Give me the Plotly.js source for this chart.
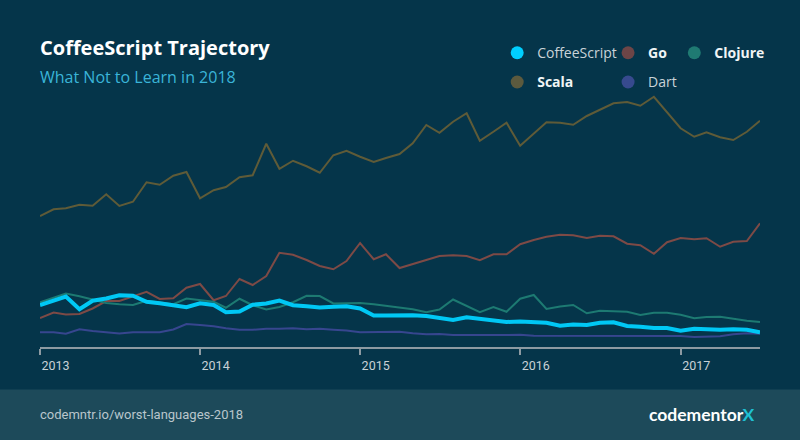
<!DOCTYPE html>
<html><head><meta charset="utf-8">
<script src="https://cdn.plot.ly/plotly-3.0.1.min.js"></script>
<style>html,body{margin:0;padding:0;background:#05354a;} #chart{width:800px;height:440px;}</style>
</head><body><div id="chart"></div>
<script>
const months = [
 "2013-01-01","2013-02-01","2013-03-01","2013-04-01","2013-05-01","2013-06-01","2013-07-01","2013-08-01","2013-09-01","2013-10-01","2013-11-01","2013-12-01",
 "2014-01-01","2014-02-01","2014-03-01","2014-04-01","2014-05-01","2014-06-01","2014-07-01","2014-08-01","2014-09-01","2014-10-01","2014-11-01","2014-12-01",
 "2015-01-01","2015-02-01","2015-03-01","2015-04-01","2015-05-01","2015-06-01","2015-07-01","2015-08-01","2015-09-01","2015-10-01","2015-11-01","2015-12-01",
 "2016-01-01","2016-02-01","2016-03-01","2016-04-01","2016-05-01","2016-06-01","2016-07-01","2016-08-01","2016-09-01","2016-10-01","2016-11-01","2016-12-01",
 "2017-01-01","2017-02-01","2017-03-01","2017-04-01","2017-05-01","2017-06-01","2017-07-01"
];
const coffeescript = [16.8,18.5,20.2,15.1,18.5,19.4,20.7,20.5,18.1,17.5,16.7,15.9,
 17.5,16.8,13.9,14.2,16.9,17.4,18.6,16.7,16.3,15.8,16.1,16.3,
 15.4,12.6,12.6,12.7,12.7,12.4,11.7,10.8,11.9,11.3,10.3,10.0,
 10.2,9.8,9.7,8.5,9.0,8.8,9.7,9.9,8.4,8.1,7.6,7.6,
 6.5,7.3,7.1,6.9,7.1,6.9,5.9];
const go = [11.6,13.8,13.0,13.2,15.4,18.4,18.4,20.2,22.1,19.2,19.5,23.7,
 25.2,18.7,20.4,27.2,24.8,28.4,37.7,36.9,34.8,32.4,31.1,34.4,
 41.6,35.1,37.1,31.6,33.2,34.8,36.4,36.7,36.4,34.7,37.1,37.1,
 41.1,42.8,44.1,44.9,44.7,43.6,44.5,44.3,41.3,40.7,37.3,41.9,
 43.6,43.1,43.5,40.1,42.1,42.4,49.5];
const clojure = [17.9,19.9,21.4,20.3,19.1,17.6,17.1,16.8,18.5,17.7,17.1,19.4,
 18.7,18.1,15.7,19.3,16.7,15.0,16.0,17.9,20.5,20.4,17.4,17.5,
 17.6,17.1,16.5,15.8,15.1,13.9,15.0,19.0,16.5,13.9,16.0,14.1,
 19.3,20.8,15.2,16.2,16.8,13.5,14.5,14.4,14.1,12.8,13.7,13.7,
 12.9,11.5,12.0,12.1,11.3,10.5,10.0];
const scala = [52.4,55.1,55.5,56.9,56.5,61.1,56.4,58.1,65.9,64.9,68.5,70.0,
 59.5,62.7,64.0,67.9,68.7,81.3,71.3,74.5,72.3,69.7,76.7,78.5,
 76.1,74.0,75.6,77.2,81.5,88.8,85.7,90.1,93.5,82.5,86.1,89.7,
 80.5,85.2,89.9,89.7,88.9,92.4,94.8,97.5,98.0,96.5,100.1,93.7,
 87.5,84.1,85.9,83.9,82.8,86.1,90.5];
const dart = [5.9,5.9,5.3,7.1,6.4,5.9,5.4,5.9,5.9,5.9,7.0,9.2,
 8.8,8.3,7.5,6.9,6.9,7.3,7.3,7.5,7.1,7.3,6.9,6.6,
 5.9,5.9,5.9,6.1,5.5,5.1,5.2,4.8,4.8,4.9,4.8,4.8,
 4.9,4.5,4.5,4.4,4.5,4.4,4.5,4.7,4.5,4.5,4.4,4.4,
 4.4,4.0,4.1,4.3,5.1,5.5,5.3];
const tickYears = ["2013-01-01","2014-01-01","2015-01-01","2016-01-01","2017-01-01"];
const tickText = ["2013","2014","2015","2016","2017"];

const series = [
  {name:"Scala", label:"<b>Scala</b>", y:scala, color:"#5f5b38", marker:"#5c5a3e", width:2, legend:"legend"},
  {name:"Go", label:"<b>Go</b>", y:go, color:"#7d4a46", marker:"#6d4547", width:2, legend:"legend2"},
  {name:"Clojure", label:"<b>Clojure</b>", y:clojure, color:"#1d7a72", marker:"#1f7a72", width:2, legend:"legend3"},
  {name:"Dart", label:"<span style='color:#c9d3d8'>Dart</span>", y:dart, color:"#37468f", marker:"#374a8e", width:2, legend:"legend2"},
  {name:"CoffeeScript", label:"<span style='color:#c9d3d8'>CoffeeScript</span>", y:coffeescript, color:"#00c8f5", marker:"#00cfff", width:4, legend:"legend"}
];
const traces = [];
series.forEach(s => {
  traces.push({type:"scatter", mode:"lines", x:months, y:s.y, name:s.name, legendgroup:s.name,
    showlegend:false, line:{color:s.color, width:s.width}, hoverinfo:"x+y+name"});
});
const legendOrder = ["CoffeeScript","Scala","Go","Dart","Clojure"];
legendOrder.forEach(n => {
  const s = series.find(t => t.name === n);
  traces.push({type:"scatter", mode:"markers", x:[null], y:[null], name:s.label, legendgroup:s.name,
    legend:s.legend, showlegend:true, marker:{color:s.marker, size:13, symbol:"circle"}, hoverinfo:"skip"});
});

const legendBase = {orientation:"v", xanchor:"left", yanchor:"top", y:1.215, bgcolor:"rgba(0,0,0,0)",
  font:{family:"Open Sans", size:14, color:"#f0f4f5"}, tracegroupgap:8, itemclick:false, itemdoubleclick:false};

const layout = {
  width:800, height:440,
  paper_bgcolor:"#05354a", plot_bgcolor:"#05354a",
  margin:{l:40, r:40, t:92, b:93},
  title:{text:"<b>CoffeeScript Trajectory</b>", font:{family:"Open Sans", size:20, color:"#ffffff"},
    x:0.05, xanchor:"left", xref:"container", yref:"container", y:0.892, yanchor:"middle"},
  xaxis:{type:"date", range:["2013-01-01","2017-07-01"], tickvals:tickYears, ticktext:tickText,
    ticks:"outside", ticklen:6, tickwidth:1.5, tickcolor:"#8d9aa2", showline:true, linecolor:"#8d9aa2", linewidth:1.5,
    showgrid:false, zeroline:false, ticklabelposition:"outside right", ticklabelstandoff:6,
    tickfont:{family:"Roboto", size:12.5, color:"#c8d1d6"}},
  yaxis:{range:[0,102], showgrid:false, zeroline:false, showticklabels:false, showline:false, ticks:""},
  legend:Object.assign({}, legendBase, {x:0.635}),
  legend2:Object.assign({}, legendBase, {x:0.789}),
  legend3:Object.assign({}, legendBase, {x:0.881}),
  shapes:[{type:"rect", xref:"paper", yref:"paper", x0:-0.06, x1:1.06, y0:-0.37, y1:-0.167,
    fillcolor:"#1d4a5a", line:{width:0}, layer:"below"}],
  annotations:[
    {text:"What Not to Learn in 2018", xref:"paper", yref:"paper", x:0, xanchor:"left", xshift:-2, y:1.057, yanchor:"middle",
      showarrow:false, font:{family:"Open Sans", size:16, color:"#3ab4d8"}},
    {text:"codemntr.io/worst-languages-2018", xref:"paper", yref:"paper", x:0, xanchor:"left", xshift:-2, y:-0.263, yanchor:"middle",
      showarrow:false, font:{family:"Roboto", size:13, color:"#b9c6cc"}},
    {text:"<b>codementor<span style='color:#1fc0d2'>X</span></b>", xref:"paper", yref:"paper", x:1.0, xanchor:"right", xshift:-4, y:-0.263, yanchor:"middle",
      showarrow:false, font:{family:"Lato", size:17.5, color:"#ffffff"}}
  ],
  hovermode:"closest"
};
Plotly.newPlot("chart", traces, layout, {displayModeBar:false, responsive:false});
</script></body></html>
